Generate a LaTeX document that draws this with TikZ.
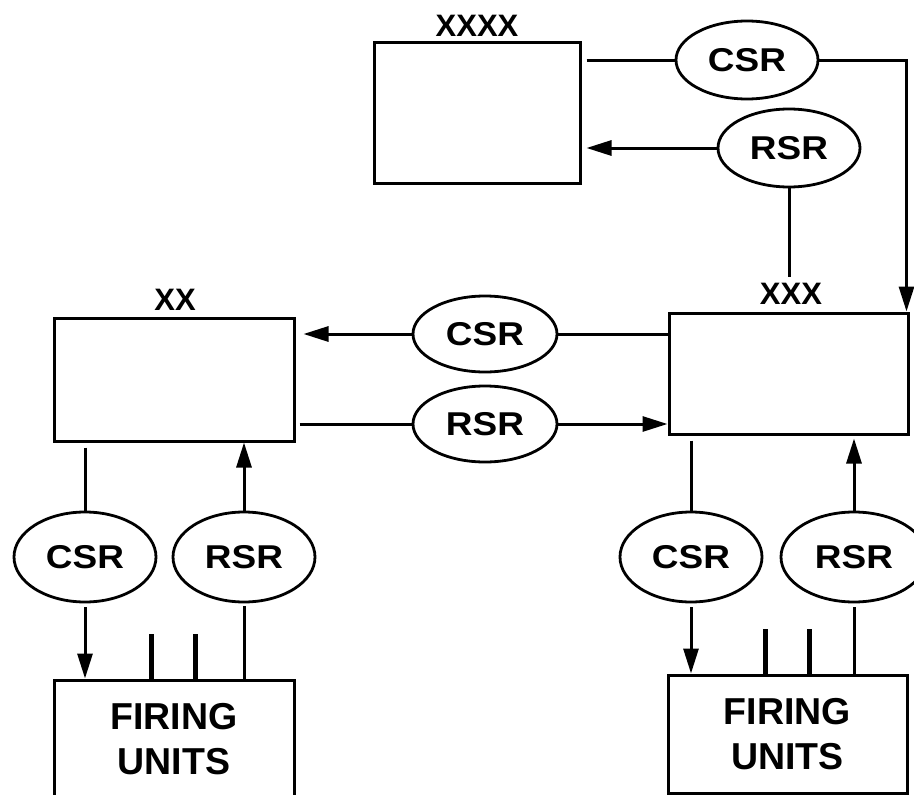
\documentclass[tikz,border=0pt]{standalone}
\usepackage{fontspec}
\setmainfont{Liberation Sans}
\newfontfamily\widefont[FakeStretch=1.12]{Liberation Sans}
\usetikzlibrary{shapes.geometric,arrows.meta}

\tikzset{
  box/.style={draw, line width=3pt, inner sep=0pt, align=center,
    font=\fontsize{37.5}{45}\selectfont\bfseries},
  msg/.style={draw, ellipse, line width=2.8pt, inner sep=0pt,
    minimum width=142pt, minimum height=78pt,
    font=\widefont\fontsize{33}{36}\selectfont\bfseries},
  lbl/.style={anchor=base, inner sep=0pt, font=\fontsize{31}{34}\selectfont\bfseries},
  conn/.style={line width=3pt},
  arr/.style={conn, -{Triangle[length=25pt,width=15pt]}},
  tick/.style={line width=5pt}
}

\begin{document}
\begin{tikzpicture}[x=1pt, y=-1pt]

\useasboundingbox (0,0) rectangle (914,795);

\node[box, minimum width=206pt, minimum height=141pt] (xxxx) at (477,112.5) {};
\node[box, minimum width=239pt, minimum height=121pt] (xxx) at (788.5,373.5) {};
\node[box, minimum width=240pt, minimum height=123pt] (xx) at (174,379.5) {};
\node[box, minimum width=240pt, minimum height=118pt] (fuL) at (174,739) {FIRING\\UNITS};
\node[box, minimum width=239pt, minimum height=118pt] (fuR) at (787.5,734) {FIRING\\UNITS};

\node[lbl] (xxxxlbl) at (477,36) {XXXX};
\node[lbl] (xxxlbl) at (791,304) {XXX};
\node[lbl] (xxlbl) at (175,310) {XX};

\node[msg] (csrA) at (747,60) {CSR};
\node[msg] (rsrA) at (789,148) {RSR};
\node[msg, minimum width=144pt, minimum height=76pt] (csrB) at (485,334) {CSR};
\node[msg, minimum width=144pt, minimum height=76pt] (rsrB) at (485,424) {RSR};
\node[msg, minimum height=90pt] (csrC) at (85,557) {CSR};
\node[msg, minimum height=90pt] (rsrC) at (244,557) {RSR};
\node[msg, minimum height=90pt] (csrD) at (691,557) {CSR};
\node[msg, minimum width=146pt, minimum height=90pt] (rsrD) at (854,557) {RSR};

\coordinate (rsrEnd) at (789,277);

\draw[conn, shorten <=5pt] (csrA.west -| xxxx.east) -- (csrA.west);
\draw[arr] (csrA.east) -| ([xshift=-3pt]xxx.north east);
\draw[arr, shorten >=5pt] (rsrA.west) -- (rsrA.west -| xxxx.east);
\draw[conn] (rsrA.south) -- (rsrEnd);

\draw[arr, shorten >=8pt] (csrB.west) -- (csrB.west -| xx.east);
\draw[conn] (xxx.west |- csrB.east) -- (csrB.east);
\draw[conn, shorten <=4pt] (xx.east |- rsrB.west) -- (rsrB.west);
\draw[arr] (rsrB.east) -- (rsrB.east -| xxx.west);

\draw[conn, shorten <=5pt] (csrC.north |- xx.south) -- (csrC.north);
\draw[arr, shorten <=4pt] (csrC.south) -- (csrC.south |- fuL.north);
\draw[arr] (rsrC.north) -- (rsrC.north |- xx.south);
\draw[conn, shorten >=3pt] (rsrC.south |- fuL.north) -- (rsrC.south);

\draw[conn, shorten <=5pt] (csrD.north |- xxx.south) -- (csrD.north);
\draw[arr, shorten <=4pt] (csrD.south) -- (csrD.south |- fuR.north);
\draw[arr, shorten >=3pt] (rsrD.north) -- (rsrD.north |- xxx.south);
\draw[conn, shorten >=4pt] (rsrD.south |- fuR.north) -- (rsrD.south);

\foreach \dx in {99,143} {
  \draw[tick] ([xshift=\dx pt]fuL.north west) -- ++(0,-45);
  \draw[tick] ([xshift=\dx pt]fuR.north west) -- ++(0,-45);
}

\end{tikzpicture}
\end{document}
